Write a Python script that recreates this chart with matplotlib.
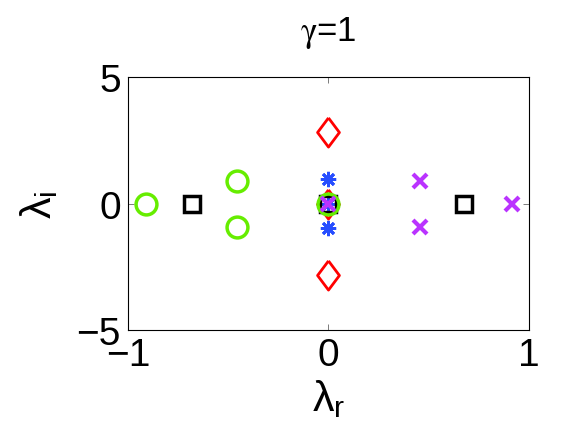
import matplotlib
matplotlib.use('Agg')
import matplotlib.pyplot as plt
import numpy as np

plt.rcParams['font.family'] = ['Liberation Sans', 'DejaVu Sans']
plt.rcParams['mathtext.fontset'] = 'custom'
plt.rcParams['mathtext.rm'] = 'Liberation Sans'
plt.rcParams['mathtext.it'] = 'Liberation Sans'

# eigenvalues (real, imag) for each set
blue_re = [0.0, 0.0, 0.0]
blue_im = [0.98, -0.98, 0.0]
red_re = [0.0, 0.0, 0.0]
red_im = [2.82, -2.82, 0.0]
black_re = [-0.68, 0.68, 0.0]
black_im = [0.0, 0.0, 0.0]
green_re = [-0.91, -0.457, -0.457, 0.0]
green_im = [0.0, 0.91, -0.91, 0.0]
purple_re = [0.917, 0.458, 0.458, 0.0]
purple_im = [0.0, 0.91, -0.91, 0.0]

xticks = [-1, 0, 1]
yticks = [-5, 0, 5]

fig = plt.figure(figsize=(5.84, 4.39), dpi=100)
ax = fig.add_axes([0.219, 0.246, 0.686, 0.576])

diamond = [(0, 1), (0.75, 0), (0, -1), (-0.75, 0), (0, 1)]

ax.plot(blue_re, blue_im, ls='none', marker=(8, 2, 0), ms=11, mew=2,
        color=(0.15, 0.3, 1.0))
ax.plot(red_re, red_im, ls='none', marker=diamond, ms=21, mew=2,
        mfc='none', mec='red')
ax.plot(black_re, black_im, ls='none', marker='s', ms=11, mew=2.5,
        mfc='none', mec='black')
ax.plot(green_re, green_im, ls='none', marker='o', ms=15, mew=2.5,
        mfc='none', mec=(0.4, 0.93, 0.0))
ax.plot(purple_re, purple_im, ls='none', marker='x', ms=10, mew=3,
        color=(0.73, 0.2, 1.0))

ax.set_xlim(-1, 1)
ax.set_ylim(-5, 5)
ax.set_xticks(xticks)
ax.set_yticks(yticks)
ax.set_xticklabels(['\u22121', '0', '1'])
ax.set_yticklabels(['\u22125', '0', '5'])
ax.tick_params(direction='in', length=4, width=0.6, color='0.4',
               top=True, right=True, labelsize=28, pad=5)
for s in ax.spines.values():
    s.set_linewidth(0.8)

# gamma drawn from STIX so it gets the looped symbol shape
ax.set_title(r'$\mathrm{\gamma}$=1', fontsize=25, pad=27,
             math_fontfamily='stix')
ax.set_xlabel(r'$\lambda_r$', fontsize=31)
ax.set_ylabel(r'$\lambda_i$', fontsize=31)
ax.xaxis.set_label_coords(0.5, -0.185)
ax.yaxis.set_label_coords(-0.17, 0.5)

fig.savefig('out.png', dpi=100)
